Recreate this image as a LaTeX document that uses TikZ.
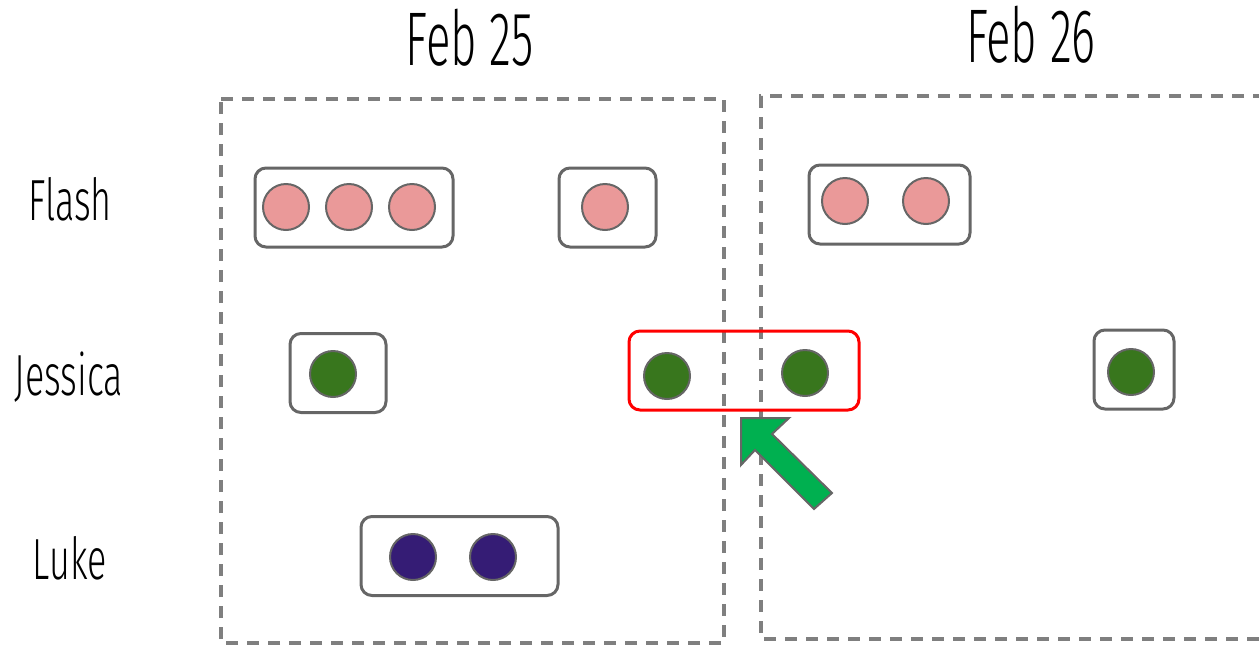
\documentclass[tikz,border=0pt]{standalone}
\usepackage{fontspec}
\newfontfamily\lblfont[FakeStretch=0.62]{Fira Sans Light}
\newfontfamily\headfont[FakeStretch=0.6]{Fira Sans Light}
\begin{document}
\begin{tikzpicture}[x=1pt,y=-1pt,
  daybox/.style={draw=daygray, line width=3.4pt, dash pattern=on 12pt off 9pt},
  grp/.style={draw=black!60, line width=3pt, rounded corners=11pt, minimum height=79pt, inner sep=0pt},
  hot/.style={draw=red, line width=3pt, rounded corners=11pt, minimum height=79pt, inner sep=0pt},
  dot/.style={circle, draw=black!60, line width=2pt, minimum size=46pt, inner sep=0pt},
  flash/.style={dot, fill=flashc},
  jess/.style={dot, fill=jessc},
  luke/.style={dot, fill=lukec},
  lbl/.style={font=\lblfont\fontsize{58}{60}\selectfont, text=black, inner sep=0pt},
  head/.style={font=\headfont\fontsize{76}{80}\selectfont, text=black, inner sep=0pt},
]
\definecolor{flashc}{HTML}{EA9999}
\definecolor{jessc}{HTML}{38761D}
\definecolor{lukec}{HTML}{351C75}
\definecolor{arrowc}{HTML}{00B050}
\definecolor{daygray}{HTML}{7F7F7F}
\useasboundingbox (0,0) rectangle (1259,646);

% day frames
\draw[daybox] (221,99) -- (724,99) -- (724,643) -- (221,643) -- cycle;
\draw[daybox] (1265,96) -- (761,96) -- (761,639) -- (1265,639);

% headings and row labels
\node[head] (d25) at (470,38) {Feb 25};
\node[head] (d26) at (1031,35) {Feb 26};
\node[lbl] (lf) at (70,199) {Flash};
\node[lbl] (lj) at (69,377) {Jessica};
\node[lbl] (ll) at (70,558) {Luke};

% Flash
\node[grp, minimum width=198pt] (fg1) at (354,207.5) {};
\node[flash] (f1) at (286,207) {};
\node[flash] (f2) at (349,207) {};
\node[flash] (f3) at (412,207) {};
\node[grp, minimum width=97pt] (fg2) at (607.5,207.5) {};
\node[flash] (f4) at (605,207) {};
\node[grp, minimum width=161pt] (fg3) at (889.5,204.5) {};
\node[flash] (f5) at (845,201) {};
\node[flash] (f6) at (926,201) {};

% Jessica
\node[grp, minimum width=96pt] (jg1) at (338,373) {};
\node[jess] (j1) at (333,374) {};
\node[hot, minimum width=230pt] (jg2) at (744,370.5) {};
\node[jess] (j2) at (667,376) {};
\node[jess] (j3) at (805,373) {};
\node[grp, minimum width=80pt] (jg3) at (1134,369.5) {};
\node[jess] (j4) at (1131,372) {};

% Luke
\node[grp, minimum width=197pt] (lg1) at (459.5,556) {};
\node[luke] (k1) at (413,557) {};
\node[luke] (k2) at (493,557) {};

% block arrow pointing at the group spanning midnight
\coordinate (tip) at (741,418);
\draw[draw=black!60, fill=arrowc, line width=2pt, line join=miter]
  (tip) -- (789,418) -- (772,434) -- (832,493) -- (814,509) -- (755,450) -- (741,465) -- cycle;
\end{tikzpicture}
\end{document}
